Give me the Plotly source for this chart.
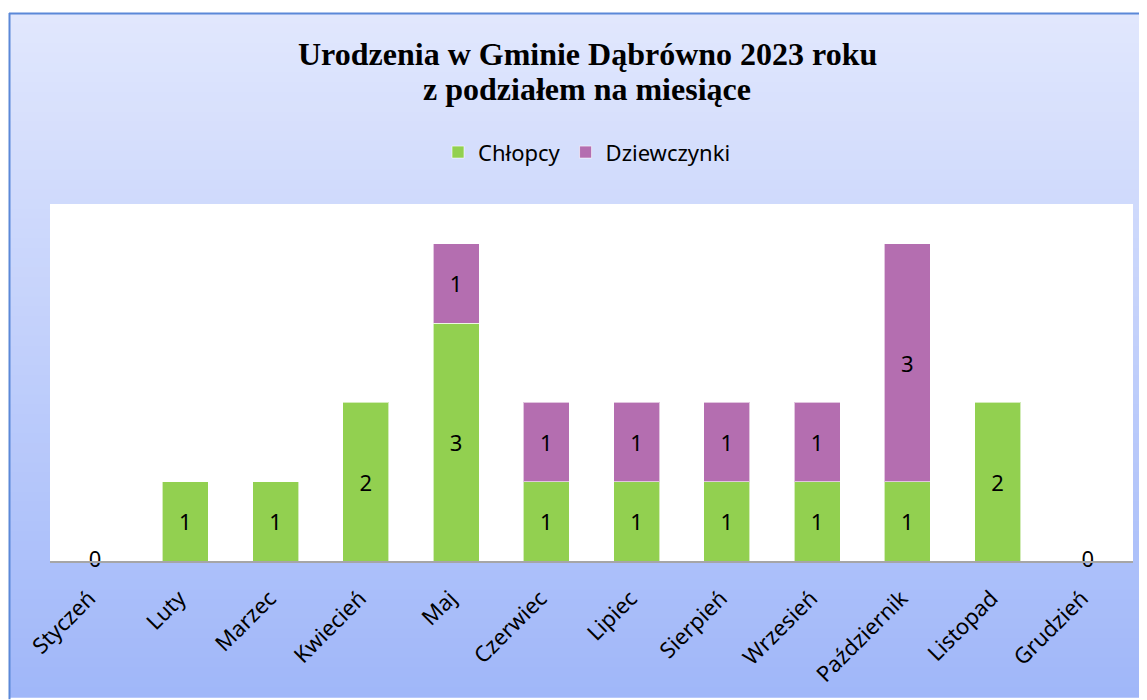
import plotly.graph_objects as go

months = ["Styczeń", "Luty", "Marzec", "Kwiecień", "Maj", "Czerwiec", "Lipiec",
          "Sierpień", "Wrzesień", "Październik", "Listopad", "Grudzień"]
boys = [0, 1, 1, 2, 3, 1, 1, 1, 1, 1, 2, 0]
girls = [None, None, None, None, 1, 1, 1, 1, 1, 3, None, None]

# the page puts the plot div 8px in from the top-left corner
OFF = 8
W, H = 1147 - OFF, 700 - OFF
L, R, T, B = 50 - OFF, 14, 204 - OFF, 137
PW, PH = W - L - R, H - T - B


def px_x(p):
    # page pixel -> paper x
    return (p - OFF - L) / PW


def px_y(p):
    # page pixel -> paper y
    return (H - B - (p - OFF)) / PH


GREEN = "#92D050"
PURPLE = "#B46EB0"
FONT = "Noto Sans"

fig = go.Figure()
fig.add_trace(go.Bar(
    name="Chłopcy", x=months, y=boys,
    text=[str(v) if v else "" for v in boys],
    marker=dict(color=GREEN, line=dict(color="rgba(255,255,255,0.6)", width=1)),
))
fig.add_trace(go.Bar(
    name="Dziewczynki", x=months, y=girls,
    text=[str(v) if v else "" for v in girls],
    marker=dict(color=PURPLE, line=dict(color="rgba(255,255,255,0.6)", width=1)),
))
fig.update_traces(textposition="inside", insidetextanchor="middle",
                  textangle=0, constraintext="none",
                  textfont=dict(family=FONT, size=22, color="black"),
                  hoverinfo="x+y+name")

# zero labels (Excel shows "0" on the baseline for empty months)
zero_x = [m for m, b, g in zip(months, boys, girls) if not b and not g]
fig.add_trace(go.Scatter(
    x=zero_x, y=[0] * len(zero_x), mode="text", text=["0"] * len(zero_x),
    textposition="middle center", cliponaxis=False, showlegend=False,
    textfont=dict(family=FONT, size=22, color="black"), hoverinfo="skip",
))

# background gradient as bands
shapes = []
top_c, bot_c = (225, 231, 253), (160, 183, 249)
y_start, n = 13, 70
step = (700 - y_start) / n
for i in range(n):
    t = i / (n - 1)
    c = tuple(round(a + (b - a) * t) for a, b in zip(top_c, bot_c))
    y0 = y_start + i * step
    shapes.append(dict(type="rect", xref="paper", yref="paper", layer="below",
                       x0=px_x(10), x1=px_x(1150), y0=px_y(y0 - 0.5), y1=px_y(y0 + step + 0.5),
                       fillcolor="rgb(%d,%d,%d)" % c, line=dict(width=0)))
shapes.append(dict(type="rect", xref="paper", yref="paper", layer="below",
                   x0=0, x1=1, y0=0, y1=1, fillcolor="white", line=dict(width=0)))
shapes.append(dict(type="line", xref="paper", yref="paper", layer="below",
                   x0=px_x(9), x1=px_x(1150), y0=px_y(12.5), y1=px_y(12.5),
                   line=dict(color="#5B88D8", width=2)))
shapes.append(dict(type="line", xref="paper", yref="paper", layer="below",
                   x0=px_x(9.5), x1=px_x(9.5), y0=px_y(12), y1=px_y(702),
                   line=dict(color="#5B88D8", width=2)))

title_font = dict(family="Liberation Serif", size=32, color="black")
annotations = [
    dict(text="<b>Urodzenia w Gminie Dąbrówno 2023 roku</b>", x=px_x(587), y=px_y(53),
         xref="paper", yref="paper", showarrow=False, font=title_font,
         xanchor="center", yanchor="middle"),
    dict(text="<b>z podziałem na miesiące</b>", x=px_x(587), y=px_y(88),
         xref="paper", yref="paper", showarrow=False, font=title_font,
         xanchor="center", yanchor="middle"),
]

fig.update_layout(
    width=W, height=H,
    margin=dict(l=L, r=R, t=T, b=B),
    barmode="stack", bargap=0.49,
    paper_bgcolor="white", plot_bgcolor="white",
    shapes=shapes, annotations=annotations,
    font=dict(family=FONT, size=22, color="black"),
    legend=dict(orientation="h", traceorder="normal", x=px_x(587), xanchor="center",
                y=px_y(152), yanchor="middle", bgcolor="rgba(0,0,0,0)",
                font=dict(family=FONT, size=22), itemwidth=30),
    xaxis=dict(showline=True, linecolor="#A6A6A6", linewidth=1.5, ticks="",
               range=[-0.5, len(months) - 0.5],
               tickangle=-45, tickfont=dict(family=FONT, size=22),
               ticklabelshift=-6, ticklabelstandoff=14,
               showgrid=False, fixedrange=True),
    yaxis=dict(range=[0, 4.5], visible=False, showgrid=False, fixedrange=True),
)

fig.write_html("out.html")
